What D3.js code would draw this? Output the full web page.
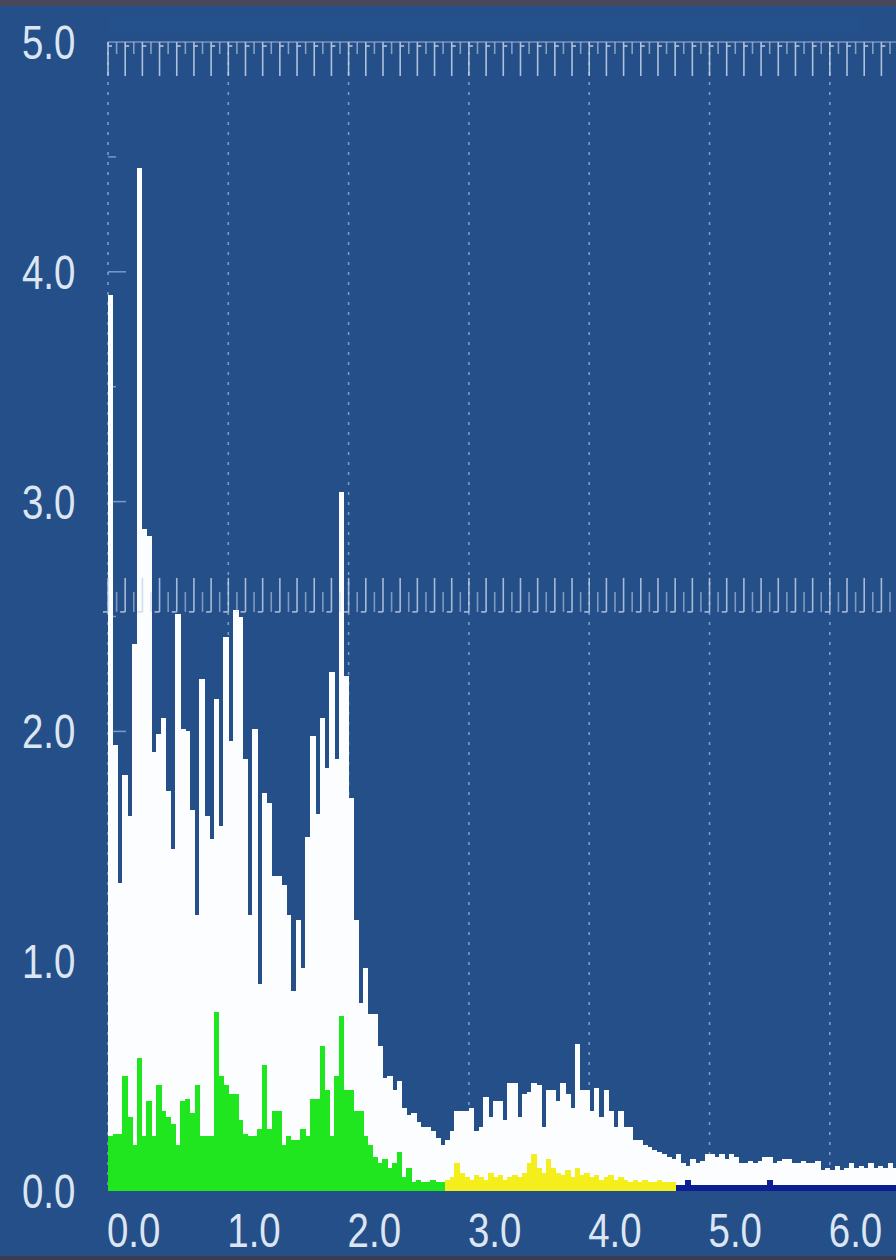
<!DOCTYPE html>
<html>
<head>
<meta charset="utf-8">
<script src="https://cdn.jsdelivr.net/npm/d3@7"></script>
<style>
html, body { margin: 0; padding: 0; background: #244f89; }
svg { display: block; }
</style>
</head>
<body>
<script>
// spectrum levels, one value per 0.04 wide bin starting at 0.0
var binWidth = 0.04;

// overall level (white) for every bin
var whiteLevels = [
  3.9, 1.94, 1.34, 1.81, 1.63, 2.38, 4.45, 2.88, 2.85, 1.91,
  1.99, 2.06, 1.74, 1.49, 2.51, 2.01, 2.0, 1.66, 1.2, 2.23,
  1.63, 1.53, 2.14, 1.59, 2.41, 1.96, 2.53, 2.5, 1.88, 1.2,
  2.01, 0.9, 1.73, 1.69, 1.37, 1.37, 1.33, 1.2, 0.87, 1.18,
  0.97, 1.54, 1.98, 1.64, 2.06, 1.84, 2.26, 1.88, 3.04, 2.24,
  1.71, 1.18, 0.82, 0.97, 0.77, 0.77, 0.63, 0.49, 0.5, 0.44,
  0.48, 0.36, 0.33, 0.34, 0.3, 0.28, 0.28, 0.26, 0.23, 0.2,
  0.22, 0.26, 0.35, 0.35, 0.35, 0.36, 0.26, 0.28, 0.41, 0.32,
  0.39, 0.39, 0.31, 0.47, 0.47, 0.32, 0.42, 0.43, 0.47, 0.46,
  0.28, 0.44, 0.44, 0.39, 0.47, 0.42, 0.36, 0.64, 0.44, 0.44,
  0.35, 0.45, 0.32, 0.44, 0.35, 0.28, 0.35, 0.28, 0.28, 0.22,
  0.22, 0.2, 0.19, 0.18, 0.17, 0.16, 0.15, 0.14, 0.16, 0.12,
  0.11, 0.14, 0.12, 0.13, 0.16, 0.16, 0.15, 0.16, 0.14, 0.16,
  0.15, 0.12, 0.12, 0.13, 0.12, 0.13, 0.15, 0.15, 0.12, 0.13,
  0.14, 0.14, 0.12, 0.12, 0.13, 0.12, 0.12, 0.13, 0.09, 0.1,
  0.09, 0.11, 0.09, 0.1, 0.12, 0.1, 0.11, 0.1, 0.12, 0.1,
  0.11, 0.1, 0.12, 0.1
];

// low band (green), bins 0..69
var greenStart = 0;
var greenLevels = [
  0.24, 0.25, 0.25, 0.5, 0.32, 0.2, 0.58, 0.24, 0.39, 0.24,
  0.46, 0.35, 0.32, 0.29, 0.2, 0.39, 0.4, 0.34, 0.46, 0.24,
  0.24, 0.24, 0.78, 0.5, 0.46, 0.42, 0.42, 0.31, 0.25, 0.24,
  0.24, 0.27, 0.55, 0.27, 0.35, 0.35, 0.2, 0.24, 0.22, 0.22,
  0.27, 0.24, 0.4, 0.4, 0.63, 0.44, 0.24, 0.5, 0.76, 0.44,
  0.44, 0.35, 0.35, 0.24, 0.2, 0.15, 0.12, 0.14, 0.1, 0.12,
  0.17, 0.06, 0.1, 0.04, 0.05, 0.04, 0.04, 0.05, 0.04, 0.04
];

// mid band (yellow), bins 70..117
var yellowStart = 70;
var yellowLevels = [
  0.05, 0.06, 0.12, 0.08, 0.06, 0.05, 0.07, 0.06, 0.05, 0.08,
  0.06, 0.07, 0.05, 0.06, 0.07, 0.06, 0.08, 0.12, 0.16, 0.1,
  0.08, 0.14, 0.1, 0.08, 0.07, 0.09, 0.06, 0.1, 0.07, 0.08,
  0.06, 0.07, 0.05, 0.06, 0.07, 0.05, 0.06, 0.05, 0.04, 0.05,
  0.04, 0.05, 0.04, 0.04, 0.05, 0.04, 0.04, 0.04
];

// high band (navy), bins 118..163
var navyStart = 118;
var navyLevels = [
  0.025, 0.025, 0.05, 0.025, 0.025, 0.025, 0.025, 0.025, 0.025, 0.025,
  0.025, 0.025, 0.025, 0.025, 0.025, 0.025, 0.025, 0.025, 0.025, 0.05,
  0.025, 0.025, 0.025, 0.025, 0.025, 0.025, 0.025, 0.025, 0.025, 0.025,
  0.025, 0.025, 0.025, 0.025, 0.025, 0.025, 0.025, 0.025, 0.025, 0.025,
  0.025, 0.025, 0.025, 0.025, 0.025, 0.025
];

var xTicks = [0, 1, 2, 3, 4, 5, 6];
var yTicks = [0, 1, 2, 3, 4, 5];
var markerLevel = 2.52;   // second ruler
var rulerStep = 1 / 7;

var W = 896, H = 1260;
var svg = d3.select("body").append("svg").attr("width", W).attr("height", H);

var x = d3.scaleLinear().domain([0, 6.55]).range([108, 896]);
var y = d3.scaleLinear().domain([0, 5]).range([1191, 42]);

// background
svg.append("rect").attr("width", W).attr("height", H).attr("fill", "#244f89");
svg.append("rect").attr("width", W).attr("height", 6).attr("fill", "#47495a");
svg.append("rect").attr("y", H - 4).attr("width", W).attr("height", 4).attr("fill", "#3b3c50");
svg.append("rect").attr("x", 108).attr("y", 16).attr("width", 752).attr("height", 18)
  .attr("fill", "#2a5b9c").attr("opacity", 0.2);

// dotted vertical grid
svg.append("g").selectAll("line").data(xTicks).enter().append("line")
  .attr("x1", function(d) { return x(d); })
  .attr("x2", function(d) { return x(d); })
  .attr("y1", y(5)).attr("y2", y(0))
  .attr("stroke", "#8fb2e0")
  .attr("stroke-width", 1.6)
  .attr("stroke-dasharray", "3,7")
  .attr("opacity", 0.8);

// small y ticks on the zero line
var yMinor = d3.range(0.5, 5, 0.5);
svg.append("g").selectAll("line").data(yMinor).enter().append("line")
  .attr("x1", x(0))
  .attr("x2", function(d) { return x(0) + (d % 1 === 0 ? 18 : 8); })
  .attr("y1", function(d) { return y(d); })
  .attr("y2", function(d) { return y(d); })
  .attr("stroke", "#9fbbe2")
  .attr("stroke-width", 1.5)
  .attr("opacity", 0.7);

// bars
function drawBars(levels, start, colour) {
  svg.append("g").attr("shape-rendering", "crispEdges")
    .selectAll("rect").data(levels).enter().append("rect")
    .attr("x", function(d, i) { return x((start + i) * binWidth); })
    .attr("width", x(binWidth) - x(0) + 0.6)
    .attr("y", function(d) { return y(d); })
    .attr("height", function(d) { return y(0) - y(d); })
    .attr("fill", colour);
}
drawBars(whiteLevels, 0, "#fbfdff");
drawBars(greenLevels, greenStart, "#1fe61f");
drawBars(yellowLevels, yellowStart, "#f4ee1c");
drawBars(navyLevels, navyStart, "#0c1f92");

// top ruler (hanging ticks at 5.0)
var rulerX = d3.range(0, 6.56, rulerStep);
var topRuler = svg.append("g").attr("stroke", "#c9d6ea").attr("stroke-width", 1.6).attr("opacity", 0.85);
topRuler.append("line").attr("x1", x(0)).attr("x2", W).attr("y1", y(5)).attr("y2", y(5)).attr("opacity", 0.6);
topRuler.selectAll(".t").data(rulerX).enter().append("line")
  .attr("x1", function(d) { return x(d); })
  .attr("x2", function(d) { return x(d); })
  .attr("y1", y(5)).attr("y2", y(5) + 34);
topRuler.selectAll(".n").data(rulerX).enter().append("line")
  .attr("x1", function(d) { return x(d); })
  .attr("x2", function(d) { return x(d) + 4; })
  .attr("y1", y(5) + 4).attr("y2", y(5) + 4);
topRuler.selectAll(".h").data(rulerX).enter().append("line")
  .attr("x1", function(d) { return x(d + rulerStep / 2); })
  .attr("x2", function(d) { return x(d + rulerStep / 2); })
  .attr("y1", y(5)).attr("y2", y(5) + 12)
  .attr("opacity", 0.7);

// marker ruler (standing ticks at markerLevel)
var midRuler = svg.append("g").attr("stroke", "#c9d6ea").attr("stroke-width", 1.6).attr("opacity", 0.8);
midRuler.selectAll(".t").data(rulerX).enter().append("line")
  .attr("x1", function(d) { return x(d); })
  .attr("x2", function(d) { return x(d); })
  .attr("y1", y(markerLevel)).attr("y2", y(markerLevel) - 34);
midRuler.selectAll(".f").data(rulerX).enter().append("line")
  .attr("x1", function(d) { return x(d) - 5; })
  .attr("x2", function(d) { return x(d); })
  .attr("y1", y(markerLevel)).attr("y2", y(markerLevel));
midRuler.selectAll(".h").data(rulerX).enter().append("line")
  .attr("x1", function(d) { return x(d + rulerStep / 2); })
  .attr("x2", function(d) { return x(d + rulerStep / 2); })
  .attr("y1", y(markerLevel)).attr("y2", y(markerLevel) - 20)
  .attr("opacity", 0.7);

// labels, tall and narrow
var fmt = d3.format(".1f");
svg.append("g").selectAll("g").data(yTicks).enter().append("g")
  .attr("transform", function(d) { return "translate(22," + (y(d) + 17) + ") scale(0.8,1)"; })
  .append("text")
  .attr("font-family", "Liberation Sans, Arial, sans-serif")
  .attr("font-size", 48)
  .attr("fill", "#dce6f3")
  .text(function(d) { return fmt(d); });

svg.append("g").selectAll("g").data(xTicks).enter().append("g")
  .attr("transform", function(d) { return "translate(" + (x(d) - 1) + ",1247) scale(0.8,1)"; })
  .append("text")
  .attr("font-family", "Liberation Sans, Arial, sans-serif")
  .attr("font-size", 48)
  .attr("fill", "#dce6f3")
  .text(function(d) { return fmt(d); });
</script>
</body>
</html>
